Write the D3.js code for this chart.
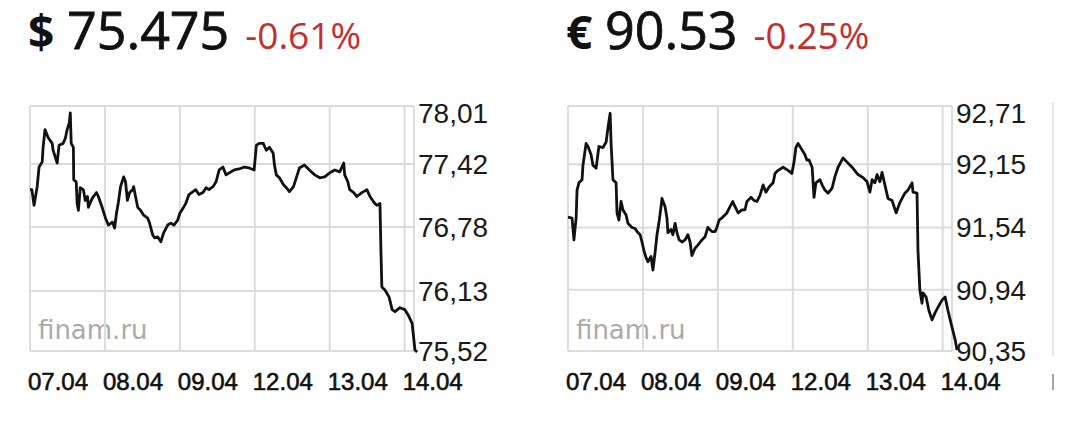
<!DOCTYPE html>
<html>
<head>
<meta charset="utf-8">
<script src="https://cdnjs.cloudflare.com/ajax/libs/d3/7.8.5/d3.min.js"></script>
<style>
  html, body { margin: 0; padding: 0; background: #fff; }
  svg { display: block; }
</style>
</head>
<body>
<script>
// day labels and where each trading day starts (hours from 07.04 open)
var dayLabels = ["07.04", "08.04", "09.04", "12.04", "13.04", "14.04"];
var dayStarts = [0, 24, 48, 72, 96, 120];

var usdHead = ["$", "75.475", "-0.61%"];
var usdTicks = [78.01, 77.42, 76.78, 76.13, 75.52];
var usdHours = [0, 0.6, 1.3, 2.3, 2.9, 3.9, 4.2, 4.8, 5.8, 7.1,
  7.4, 8.7, 9.3, 10.6, 11.3, 11.9, 12.6, 12.9, 13.2, 13.9,
  14.0, 14.8, 15.1, 15.5, 16.1, 17.1, 17.7, 18.4, 18.7, 19.6,
  20.3, 21.3, 21.9, 23.2, 24.2, 25.1, 26.4, 27.1, 27.7, 28.3,
  29.0, 30.0, 30.6, 31.2, 31.9, 32.9, 33.2, 33.8, 34.5, 35.4,
  36.4, 37.7, 38.3, 39.3, 39.9, 40.9, 41.9, 42.8, 44.1, 45.1,
  46.1, 47.3, 48.0, 49.0, 49.9, 50.9, 52.2, 53.1, 54.1, 55.4,
  56.4, 57.3, 58.6, 59.6, 60.6, 61.8, 62.8, 63.8, 65.4, 67.0,
  68.6, 70.2, 71.8, 72.5, 73.4, 74.7, 75.7, 76.7, 77.9, 78.3,
  78.9, 79.9, 81.2, 82.1, 83.1, 84.4, 85.4, 86.3, 87.9, 89.5,
  91.2, 92.8, 94.4, 96.0, 97.6, 99.2, 100.5, 100.8, 101.8, 102.4,
  103.7, 104.7, 106.3, 107.9, 108.9, 110.2, 111.1, 112.1, 112.4, 112.7,
  113.7, 115.0, 116.0, 116.9, 118.5, 120.1, 121.4, 122.4, 123.3, 124.0];
var usdRates = [77.16, 77.16, 77.00, 77.19, 77.39, 77.44, 77.59, 77.77, 77.69, 77.63,
  77.56, 77.43, 77.61, 77.63, 77.68, 77.77, 77.84, 77.94, 77.63, 77.59,
  77.26, 77.24, 77.02, 76.95, 77.18, 77.16, 77.05, 77.09, 76.98, 77.05,
  77.09, 77.13, 77.09, 76.97, 76.87, 76.80, 76.83, 76.77, 76.92, 77.03,
  77.19, 77.29, 77.24, 77.05, 77.13, 77.16, 77.19, 77.09, 76.98, 76.95,
  76.90, 76.87, 76.82, 76.70, 76.67, 76.68, 76.63, 76.72, 76.80, 76.82,
  76.80, 76.85, 76.92, 76.97, 77.02, 77.11, 77.14, 77.16, 77.11, 77.13,
  77.18, 77.16, 77.19, 77.24, 77.36, 77.39, 77.31, 77.33, 77.36, 77.37,
  77.39, 77.38, 77.36, 77.61, 77.63, 77.63, 77.56, 77.59, 77.53, 77.41,
  77.31, 77.28, 77.21, 77.18, 77.14, 77.19, 77.29, 77.38, 77.41, 77.36,
  77.31, 77.28, 77.29, 77.33, 77.36, 77.34, 77.43, 77.31, 77.24, 77.16,
  77.13, 77.09, 77.13, 77.16, 77.09, 77.03, 77.00, 77.02, 76.55, 76.17,
  76.14, 76.07, 75.94, 75.92, 75.96, 75.94, 75.87, 75.80, 75.53, 75.51];

var eurHead = ["\u20ac", "90.53", "-0.25%"];
var eurTicks = [92.71, 92.15, 91.54, 90.94, 90.35];
var eurHours = [0, 1.3, 1.9, 2.6, 2.9, 3.5, 4.5, 4.8, 5.8, 6.4,
  7.4, 8.0, 9.0, 9.9, 11.2, 12.2, 12.8, 13.5, 13.8, 14.4,
  15.4, 15.7, 16.3, 17.0, 17.6, 18.6, 19.2, 20.5, 21.5, 22.1,
  23.1, 23.7, 24.3, 25.0, 25.6, 26.6, 27.2, 27.9, 28.5, 29.1,
  29.8, 30.1, 31.1, 31.7, 32.0, 33.0, 33.6, 34.3, 34.9, 35.6,
  36.5, 37.5, 38.4, 39.1, 39.7, 40.7, 41.6, 42.9, 43.9, 44.8,
  46.1, 47.1, 47.7, 48.4, 49.6, 50.9, 51.9, 52.8, 53.5, 54.5,
  55.7, 56.7, 57.3, 58.6, 59.6, 60.5, 61.5, 62.5, 63.4, 64.4,
  65.7, 66.3, 67.3, 68.9, 70.5, 71.7, 72.4, 73.0, 73.7, 74.9,
  75.9, 76.5, 77.2, 78.2, 78.8, 79.4, 80.7, 81.4, 82.3, 83.3,
  84.6, 85.5, 86.5, 88.1, 89.7, 91.3, 92.9, 94.5, 95.8, 96.7,
  97.4, 98.3, 99.0, 99.9, 100.6, 101.5, 102.5, 103.8, 105.1, 106.3,
  107.9, 108.9, 110.2, 110.5, 111.8, 112.1, 112.7, 113.4, 113.7, 114.7,
  115.6, 116.6, 117.6, 118.5, 119.8, 120.8, 121.7, 123.0, 124.0, 124.6];
var eurRates = [91.64, 91.63, 91.42, 91.63, 91.90, 91.97, 92.00, 92.14, 92.35, 92.32,
  92.24, 92.14, 92.11, 92.32, 92.31, 92.36, 92.50, 92.64, 92.35, 92.00,
  91.97, 91.68, 91.61, 91.79, 91.71, 91.66, 91.58, 91.54, 91.53, 91.50,
  91.47, 91.40, 91.32, 91.25, 91.21, 91.26, 91.13, 91.30, 91.47, 91.58,
  91.74, 91.82, 91.74, 91.63, 91.49, 91.52, 91.47, 91.58, 91.49, 91.42,
  91.40, 91.42, 91.47, 91.40, 91.27, 91.34, 91.37, 91.42, 91.45, 91.54,
  91.50, 91.50, 91.54, 91.61, 91.64, 91.68, 91.74, 91.79, 91.74, 91.68,
  91.71, 91.71, 91.79, 91.83, 91.80, 91.79, 91.85, 91.95, 91.88, 91.93,
  91.97, 92.06, 92.09, 92.12, 92.09, 92.06, 92.17, 92.31, 92.35, 92.29,
  92.24, 92.19, 92.19, 92.12, 91.83, 91.97, 92.00, 91.95, 91.90, 91.87,
  91.92, 92.03, 92.12, 92.21, 92.16, 92.11, 92.05, 92.02, 91.98, 91.88,
  92.00, 91.97, 92.05, 91.98, 92.07, 91.95, 91.82, 91.80, 91.68, 91.78,
  91.87, 91.90, 91.97, 91.88, 91.87, 91.32, 90.94, 90.81, 90.91, 90.87,
  90.74, 90.65, 90.72, 90.77, 90.84, 90.87, 90.74, 90.58, 90.46, 90.36];

var plotW = 384, plotTop = 106, plotBottom = 351;
var gridColor = "#dcdcdc";

var svg = d3.select("body").append("svg")
  .attr("width", 1080).attr("height", 423)
  .attr("viewBox", "0 0 1080 423");

function panel(left, head, hours, rates, ticks) {
  var g = svg.append("g").attr("transform", "translate(" + left + ",0)");
  var x = d3.scaleLinear().domain([0, 123]).range([0, plotW]);
  var y = d3.scaleLinear().domain(d3.extent(ticks)).range([plotBottom, plotTop]);

  // heading: symbol, rate, change
  g.append("text").attr("x", -2).attr("y", 49)
    .style("font", "bold 46px 'Open Sans'").style("fill", "#111")
    .text(head[0]);
  var num = g.append("text").attr("x", 37).attr("y", 49)
    .style("font", "52px 'Open Sans'").style("fill", "#111")
    .style("stroke", "#111").style("stroke-width", 0.8)
    .text(head[1]);
  var numEnd = 37 + num.node().getComputedTextLength();
  g.append("text").attr("x", numEnd + 16).attr("y", 49)
    .style("font", "37px 'Open Sans'").style("fill", "#c62d2d")
    .text(head[2]);

  // watermark sits under the grid
  g.append("text").attr("x", 8).attr("y", 339)
    .style("font", "26px 'DejaVu Sans'").style("fill", "#aaa")
    .text("finam.ru");

  g.selectAll("line.h").data(ticks).enter().append("line")
    .attr("class", "h")
    .attr("x1", 0).attr("x2", plotW)
    .attr("y1", function(d) { return y(d); })
    .attr("y2", function(d) { return y(d); })
    .style("stroke", gridColor).style("stroke-width", 2);

  g.selectAll("line.v").data(dayStarts.concat([123])).enter().append("line")
    .attr("class", "v")
    .attr("x1", function(d) { return x(d); })
    .attr("x2", function(d) { return x(d); })
    .attr("y1", plotTop).attr("y2", plotBottom)
    .style("stroke", gridColor).style("stroke-width", 2);

  // price labels on the right
  g.selectAll("text.yl").data(ticks).enter().append("text")
    .attr("class", "yl")
    .attr("x", plotW + 4)
    .attr("y", function(d) { return Math.max(y(d), 113) + 10; })
    .style("font", "28px 'Liberation Sans'").style("fill", "#1a1a1a")
    .text(function(d) { return d.toFixed(2).replace(".", ","); });

  // day labels below
  g.selectAll("text.xl").data(dayStarts).enter().append("text")
    .attr("class", "xl")
    .attr("x", function(d) { return x(d) - 2; })
    .attr("y", 390)
    .style("font", "24px 'Liberation Sans'").style("fill", "#111")
    .style("stroke", "#111").style("stroke-width", 0.6)
    .text(function(d, i) { return dayLabels[i]; });

  var line = d3.line()
    .x(function(d) { return x(d[0]); })
    .y(function(d) { return y(d[1]); });

  g.append("path").datum(d3.zip(hours, rates))
    .attr("d", line)
    .style("fill", "none").style("stroke", "#111")
    .style("stroke-width", 2.8).style("stroke-linejoin", "round");
}

panel(30, usdHead, usdHours, usdRates, usdTicks);
panel(568, eurHead, eurHours, eurRates, eurTicks);

// edge of a third chart, cut off by the frame
svg.append("line").attr("x1", 1053).attr("x2", 1053).attr("y1", 103).attr("y2", 356)
  .style("stroke", "#e6e6e6").style("stroke-width", 2);
svg.append("line").attr("x1", 1053).attr("x2", 1053).attr("y1", 374).attr("y2", 390)
  .style("stroke", "#888").style("stroke-width", 1.5);
</script>
</body>
</html>
